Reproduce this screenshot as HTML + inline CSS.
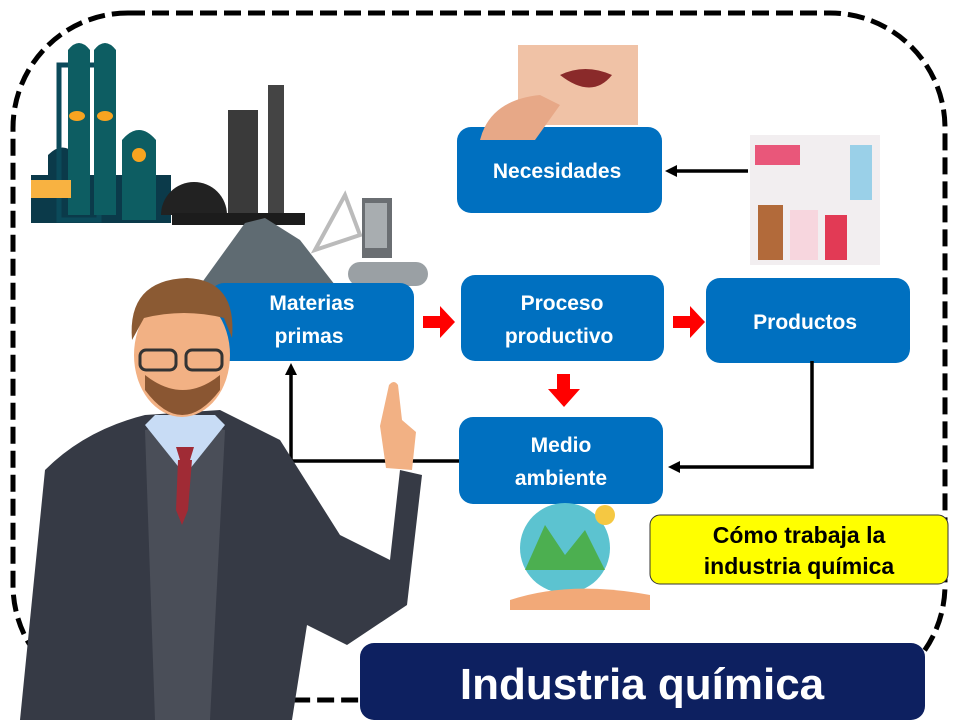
<!DOCTYPE html>
<html><head><meta charset="utf-8"><style>
body{margin:0;background:#fff}
svg{display:block}
text{font-family:"Liberation Sans",sans-serif;font-weight:bold}
</style></head><body>
<svg width="960" height="720" viewBox="0 0 960 720" xmlns="http://www.w3.org/2000/svg">
<rect x="13" y="13" width="932" height="687" rx="115" fill="none" stroke="#000" stroke-width="5" stroke-dasharray="17,7"/>
<!-- factory -->
<g>
<rect x="31" y="175" width="140" height="48" fill="#0b3a4a"/>
<path d="M48 220V155q15-15 28 0v65z" fill="#0b3a4a"/>
<rect x="59" y="65" width="40" height="155" fill="none" stroke="#0b4a5a" stroke-width="5"/>
<path d="M68 215V50q11-14 22 0v165zM94 215V50q11-14 22 0v165z" fill="#0d5d62"/>
<path d="M122 220V140q17-20 34 0v80z" fill="#0d5d62"/>
<ellipse cx="77" cy="116" rx="8" ry="5" fill="#f8a420"/>
<ellipse cx="105" cy="116" rx="8" ry="5" fill="#f8a420"/>
<circle cx="139" cy="155" r="7" fill="#f8a420"/>
<rect x="31" y="180" width="40" height="18" fill="#f8b241"/>
<path d="M161 215a33 33 0 0 1 66 0z" fill="#222"/>
<rect x="228" y="110" width="30" height="105" fill="#3a3a3a"/>
<rect x="268" y="85" width="16" height="130" fill="#444"/>
<rect x="172" y="213" width="133" height="12" fill="#1c1c1c"/>
<path d="M198 288L245 223L265 218L300 240L335 285z" fill="#5f6b72"/>
<path d="M315 250l30-55 15 40z" fill="none" stroke="#bbb" stroke-width="4"/>
<rect x="362" y="198" width="30" height="60" fill="#6a6e72"/>
<rect x="365" y="203" width="22" height="45" fill="#a8adb0"/>
<rect x="348" y="262" width="80" height="24" rx="12" fill="#9aa0a4"/>
</g>
<!-- boxes -->
<g fill="#0070c0">
<rect x="457" y="127" width="205" height="86" rx="14"/>
<rect x="210" y="283" width="204" height="78" rx="14"/>
<rect x="461" y="275" width="203" height="86" rx="14"/>
<rect x="706" y="278" width="204" height="85" rx="14"/>
<rect x="459" y="417" width="204" height="87" rx="14"/>
</g>
<rect x="750" y="135" width="130" height="130" fill="#f2eef0"/>
<rect x="758" y="205" width="25" height="55" fill="#b26a3a"/>
<rect x="825" y="215" width="22" height="45" fill="#e23a55"/>
<rect x="790" y="210" width="28" height="50" fill="#f7d6de"/>
<rect x="755" y="145" width="45" height="20" fill="#e9577a"/>
<rect x="850" y="145" width="22" height="55" fill="#9ad0e8"/>
<rect x="518" y="45" width="120" height="80" fill="#f0c2a6"/>
<path d="M560 75q25-12 52 0q-20 25-52 0z" fill="#8a2a2a"/>
<path d="M480 140q10-40 60-45l20 10l-25 35z" fill="#e7a887"/>
<circle cx="565" cy="548" r="45" fill="#5cc3d0"/>
<path d="M525 570l20-45 20 30 20-25 20 40z" fill="#4caf50"/>
<path d="M510 600q60-20 140 -5v15h-140z" fill="#f2a978"/>
<circle cx="605" cy="515" r="10" fill="#f5c842"/>
<text fill="#fff" font-size="21" text-anchor="middle">
<tspan x="560" y="178">Necesidades</tspan>
<tspan x="312" y="310">Materias</tspan><tspan x="312" y="343">primas</tspan>
<tspan x="562" y="310">Proceso</tspan><tspan x="562" y="343">productivo</tspan>
<tspan x="808" y="329">Productos</tspan>
<tspan x="561" y="452">Medio</tspan><tspan x="561" y="485">ambiente</tspan>
</text>
<g stroke="#000" stroke-width="3.5" fill="none">
<path d="M748 171H675"/>
<path d="M812 361V467H678"/>
<path d="M459 461H291V373"/>
</g>
<g fill="#000">
<path d="M665 171l12-6v12z"/>
<path d="M668 467l12-6v12z"/>
<path d="M291 363l-6 12h12z"/>
</g>
<g fill="#f00">
<path d="M423 316h17v-10l15 16-15 16v-10h-17z"/>
<path d="M673 316h17v-10l15 16-15 16v-10h-17z"/>
<path d="M557 374h13v15h10l-16 18-16-18h9z"/>
</g>
<!-- man -->
<g>
<path d="M45 470q40-40 100-55l75-5 60 30 60 95 50 25 10-90 22 5-15 130-60 40-40-20-15 95H20z" fill="#363a45"/>
<path d="M145 430l40-10 40 10-15 290h-55z" fill="#4a4e58"/>
<path d="M145 425l40 50 40-50-10-10h-60z" fill="#c8dcf5"/>
<path d="M178 460h14l-4 50-6 15-6-15z" fill="#a02b35"/>
<path d="M176 447h18l-4 13h-10z" fill="#a02b35"/>
<ellipse cx="182" cy="355" rx="48" ry="62" fill="#f2b184"/>
<path d="M132 340q-5-60 55-62q50 2 45 60l-8-20q-40-10-80 0z" fill="#8b5a33"/>
<path d="M145 390q37 50 75 0v-15q-37 30-75 0z" fill="#8a5632"/>
<rect x="140" y="350" width="36" height="20" rx="6" fill="none" stroke="#333" stroke-width="3"/>
<rect x="186" y="350" width="36" height="20" rx="6" fill="none" stroke="#333" stroke-width="3"/>
<path d="M389 385q5-6 9 0l4 35 14 12-4 38-26-2-6-42z" fill="#f2b184"/>
</g>
<rect x="650" y="515" width="298" height="69" rx="10" fill="#ffff00" stroke="#333" stroke-width="1"/>
<text font-size="23" text-anchor="middle" fill="#000"><tspan x="799" y="543">Cómo trabaja la</tspan><tspan x="799" y="574">industria química</tspan></text>
<rect x="360" y="643" width="565" height="77" rx="14" fill="#0d2060"/>
<text x="642" y="699" font-size="44" text-anchor="middle" fill="#fff">Industria  química</text>
</svg>
</body></html>
